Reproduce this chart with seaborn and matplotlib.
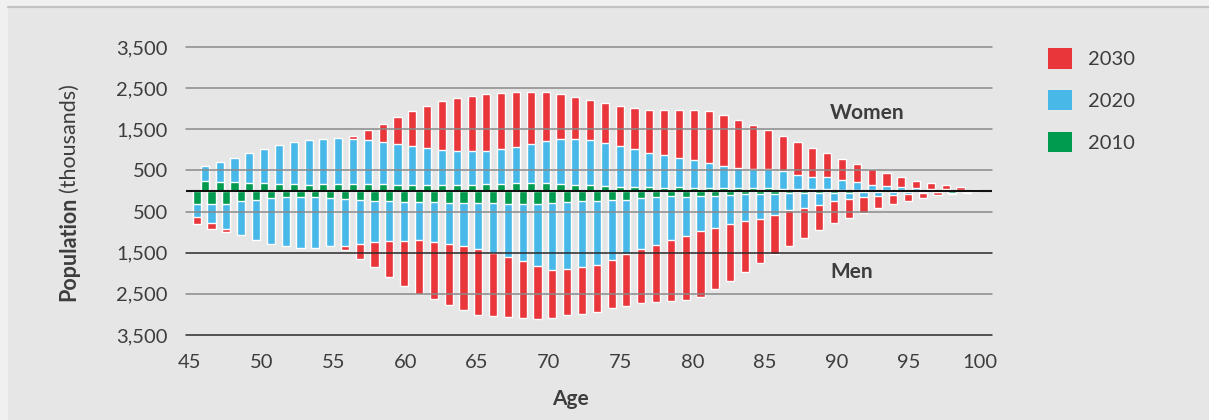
import matplotlib
matplotlib.use('Agg')
import matplotlib.pyplot as plt
from matplotlib.patches import Patch, Rectangle
import numpy as np
import pandas as pd
import seaborn as sns

# 데이터 (천 명 단위), 나이 46 ~ 98
ages = list(range(46, 99))

women_2030 = [616, 650, 700, 760, 830, 900, 980, 1060, 1150, 1240,
              1329, 1491, 1629, 1791, 1937, 2066, 2180, 2253, 2310, 2358,
              2391, 2415, 2415, 2407, 2366, 2293, 2212, 2147, 2075, 2010,
              1969, 1969, 1969, 1969, 1945, 1840, 1726, 1605, 1491, 1329,
              1183, 1045, 916, 786, 656, 535, 430, 340, 251, 186,
              146, 105, 20]
women_2020 = [600, 705, 810, 916, 1029, 1126, 1199, 1248, 1272, 1288,
              1272, 1240, 1191, 1143, 1086, 1037, 989, 964, 964, 981,
              1013, 1070, 1143, 1216, 1272, 1272, 1232, 1175, 1102, 1013,
              932, 875, 810, 746, 681, 616, 567, 543, 535, 478,
              397, 348, 348, 259, 227, 154, 122, 97, 70, 49,
              50, 30, 15]
women_2010 = [235, 227, 219, 203, 186, 178, 162, 138, 162, 162,
              162, 162, 162, 154, 146, 138, 146, 146, 154, 162,
              178, 186, 203, 194, 178, 154, 138, 130, 105, 105,
              97, 81, 105, 81, 81, 81, 81, 73, 65, 57,
              49, 49, 41, 32, 32, 24, 24, 16, 16, 8,
              8, 8, 5]

men_2030 = [810, 916, 989, 1030, 1070, 1120, 1170, 1220, 1270, 1310,
            1442, 1653, 1856, 2083, 2301, 2496, 2626, 2771, 2901, 3006,
            3039, 3071, 3087, 3112, 3096, 3006, 2982, 2942, 2852, 2788,
            2715, 2690, 2666, 2642, 2577, 2391, 2180, 1969, 1750, 1540,
            1329, 1135, 940, 786, 656, 535, 421, 324, 251, 175,
            90, 70, 45]
men_2020 = [640, 778, 924, 1070, 1183, 1280, 1345, 1378, 1378, 1345,
            1329, 1280, 1248, 1224, 1207, 1199, 1232, 1280, 1345, 1418,
            1507, 1605, 1710, 1815, 1929, 1896, 1840, 1791, 1686, 1540,
            1418, 1305, 1199, 1086, 981, 891, 802, 737, 689, 592,
            454, 413, 340, 243, 203, 154, 130, 89, 75, 41,
            30, 35, 20]
men_2010 = [308, 308, 308, 251, 211, 178, 146, 138, 146, 162,
            186, 211, 235, 251, 267, 276, 267, 284, 292, 300,
            300, 308, 308, 316, 300, 267, 251, 243, 227, 211,
            178, 146, 130, 146, 122, 113, 105, 81, 81, 65,
            57, 57, 49, 41, 41, 32, 32, 32, 24, 24,
            20, 50, 35]

years = ['2030', '2020', '2010']
colors = {'2030': '#e8363b', '2020': '#48b8e8', '2010': '#009b4e'}
age_ticks = [45, 50, 55, 60, 65, 70, 75, 80, 85, 90, 95, 100]
y_ticks = [-3500, -2500, -1500, -500, 500, 1500, 2500, 3500]

women = {'2030': women_2030, '2020': women_2020, '2010': women_2010}
men = {'2030': men_2030, '2020': men_2020, '2010': men_2010}

rows = []
for yr in years:
    for a, w, m in zip(ages, women[yr], men[yr]):
        rows.append({'year': yr, 'age': a, 'sex': 'Men', 'pop': -m})
        rows.append({'year': yr, 'age': a, 'sex': 'Women', 'pop': w})
df = pd.DataFrame(rows)

sns.set_style('white')
plt.rcParams['font.family'] = ['Lato', 'DejaVu Sans']
txt = '#3d3d3d'

fig = plt.figure(figsize=(12.09, 4.2), dpi=100, facecolor='#e6e6e6')
W, H = 1209, 420
ax = fig.add_axes([186 / W, 1 - 335 / H, (992 - 186) / W, (335 - 47) / H])
ax.set_facecolor('none')

# 뒤에서 앞으로: 2030 -> 2020 -> 2010 (겹쳐 그리기)
for yr in years:
    sub = df[df['year'] == yr]
    sns.barplot(data=sub, x='age', y='pop', hue='sex', hue_order=['Men', 'Women'],
                palette={'Men': colors[yr], 'Women': colors[yr]},
                width=1.1, dodge=True, saturation=1, errorbar=None,
                legend=False, ax=ax, zorder=2)

ax.set_xlim(-1.0, 53.4)
ax.set_ylim(-3500, 3500)

# 격자선
for t in y_ticks:
    c = '#2a2a2a' if t in (-1500, -3500) else '#8a8a8a'
    ax.axhline(t, color=c, lw=1.1, zorder=3, clip_on=False)
ax.axhline(0, color='#111111', lw=1.5, zorder=4)

ax.set_yticks(y_ticks, [f'{abs(t):,}' for t in y_ticks])
tick_pos = np.linspace(-0.76, 52.6, len(age_ticks))
ax.set_xticks(tick_pos, [str(a) for a in age_ticks])
ax.tick_params(axis='both', length=0, labelsize=14.5, labelcolor=txt)
ax.tick_params(axis='y', pad=13)
ax.tick_params(axis='x', pad=14)
for s in ax.spines.values():
    s.set_visible(False)
ax.set_xlabel('')
ax.set_ylabel('')

ax.text(42.46, 1903, 'Women', ha='left', va='center', fontsize=15,
        fontweight='bold', color=txt)
ax.text(42.46, -1974, 'Men', ha='left', va='center', fontsize=15,
        fontweight='bold', color=txt)

fig.text(570 / W, 1 - 399 / H, 'Age', ha='center', va='center', fontsize=15,
         fontweight='bold', color=txt)

# y축 제목: 굵은 'Population' + 보통 '(thousands)' 이어붙이기
t1 = fig.text(69 / W, 0.5, 'Population', rotation=90, ha='center', va='bottom',
              fontsize=15.5, fontweight='bold', color=txt)
t2 = fig.text(69 / W, 0.5, '(thousands)', rotation=90, ha='center', va='bottom',
              fontsize=15.5, color=txt)
fig.canvas.draw()
r = fig.canvas.get_renderer()
h1 = t1.get_window_extent(r).height
h2 = t2.get_window_extent(r).height
gap = 5
start = (H - 192) - (h1 + gap + h2) / 2
t1.set_y(start / H)
t2.set_y((start + h1 + gap) / H)

handles = [Patch(facecolor=colors[y], edgecolor='none', label=y) for y in years]
fig.legend(handles=handles, loc='upper left', bbox_to_anchor=(1048 / W, 1 - 48 / H),
           frameon=False, fontsize=14.5, labelcolor=txt, handlelength=1.2,
           handleheight=1.2, handletextpad=0.8, labelspacing=1.05,
           borderpad=0, borderaxespad=0)

# 바깥 테두리 영역
fig.add_artist(Rectangle((0, 0), 8 / W, 1, transform=fig.transFigure,
                         facecolor='#f0f0f0', edgecolor='none', zorder=0))
fig.add_artist(Rectangle((0, 1 - 6 / H), 1, 6 / H, transform=fig.transFigure,
                         facecolor='#f0f0f0', edgecolor='none', zorder=0))
fig.add_artist(plt.Line2D([8 / W, 1], [1 - 7 / H, 1 - 7 / H], transform=fig.transFigure,
                          color='#c2c2c2', lw=1.6))

fig.savefig('out.png', dpi=100, facecolor=fig.get_facecolor())
